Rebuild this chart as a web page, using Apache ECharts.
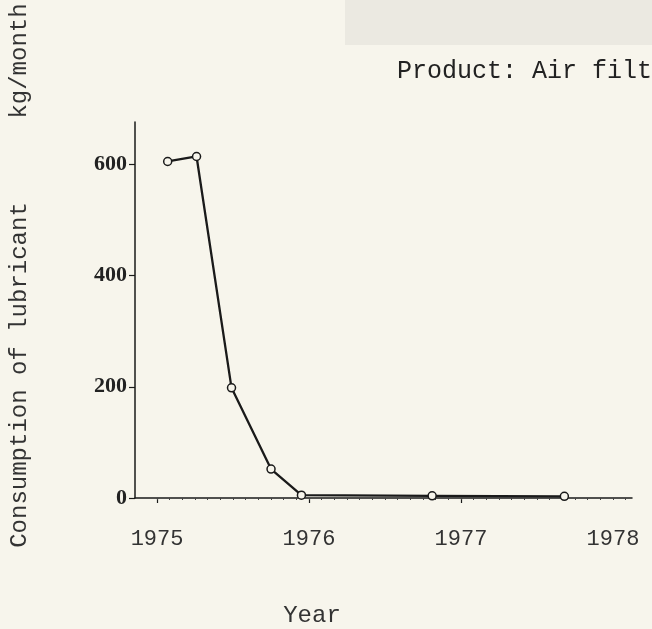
<!DOCTYPE html>
<html>
<head>
<meta charset="utf-8">
<script src="https://cdn.jsdelivr.net/npm/echarts@6/dist/echarts.min.js"></script>
<style>
html,body{margin:0;padding:0;background:#f7f5ec;}
#chart{width:652px;height:629px;}
</style>
</head>
<body>
<div id="chart"></div>
<script>
// Data
var years = [1975.07, 1975.26, 1975.49, 1975.75, 1975.95, 1976.81, 1977.68];
var consumption = [605, 614, 198, 52, 5, 4, 3];
var yearTicks = [1975, 1976, 1977, 1978];
var yTicks = [0, 200, 400, 600];

var minorTicks = [];
for (var y = 1975; y <= 1978.1; y += 1 / 12) minorTicks.push(+y.toFixed(4));

var points = years.map(function (x, i) { return [x, consumption[i]]; });

var chart = echarts.init(document.getElementById('chart'), null, {renderer: 'canvas'});
var mono = '"Liberation Mono", "DejaVu Sans Mono", monospace';
chart.setOption({
  backgroundColor: '#f7f5ec',
  animation: false,
  grid: {left: 135, right: 20, top: 122, bottom: 131},
  xAxis: [{
    type: 'value',
    min: 1974.855, max: 1978.125,
    axisLine: {show: true, lineStyle: {color: '#1a1a1a', width: 1.5}},
    axisTick: {show: true, customValues: yearTicks.slice(0, 3), length: 5, lineStyle: {color: '#1a1a1a', width: 1.2}},
    axisLabel: {show: true, customValues: yearTicks, margin: 30, color: '#333',
      fontFamily: mono, fontSize: 22, formatter: function (v) { return String(Math.round(v)); }},
    splitLine: {show: false}
  }, {
    type: 'value',
    position: 'bottom',
    min: 1974.855, max: 1978.125,
    axisLine: {show: false},
    axisTick: {show: true, customValues: minorTicks, length: 2, lineStyle: {color: '#444', width: 1}},
    axisLabel: {show: false},
    splitLine: {show: false}
  }],
  yAxis: {
    type: 'value',
    min: 0, max: 676,
    axisLine: {show: true, lineStyle: {color: '#1a1a1a', width: 1.5}},
    axisTick: {show: true, customValues: yTicks, length: 6, lineStyle: {color: '#1a1a1a', width: 1.2}},
    axisLabel: {show: true, customValues: yTicks, margin: 8, color: '#222',
      fontFamily: '"Liberation Serif", "DejaVu Serif", serif', fontWeight: 'bold', fontSize: 22},
    splitLine: {show: false}
  },
  graphic: [
    {type: 'rect', z: -10, shape: {x: 345, y: 0, width: 307, height: 45}, style: {fill: '#ebe9e1'}},
    {type: 'text', left: 397, top: 59, style: {text: 'Product: Air filt', font: '25px ' + mono, fill: '#222'}},
    {type: 'text', x: 312, y: 616, style: {text: 'Year', font: '24px ' + mono, fill: '#333', align: 'center', verticalAlign: 'middle'}},
    {type: 'text', x: 20, y: 375, rotation: Math.PI / 2, style: {text: 'Consumption of lubricant', font: '24px ' + mono, fill: '#333', align: 'center', verticalAlign: 'middle'}},
    {type: 'text', x: 20, y: 61, rotation: Math.PI / 2, style: {text: 'kg/month', font: '24px ' + mono, fill: '#333', align: 'center', verticalAlign: 'middle'}}
  ],
  series: [{
    type: 'line',
    xAxisIndex: 0,
    data: points,
    symbol: 'circle',
    symbolSize: 8,
    lineStyle: {color: '#1a1a1a', width: 2.3},
    itemStyle: {color: '#f7f5ec', borderColor: '#1a1a1a', borderWidth: 1.5}
  }]
});
</script>
</body>
</html>
